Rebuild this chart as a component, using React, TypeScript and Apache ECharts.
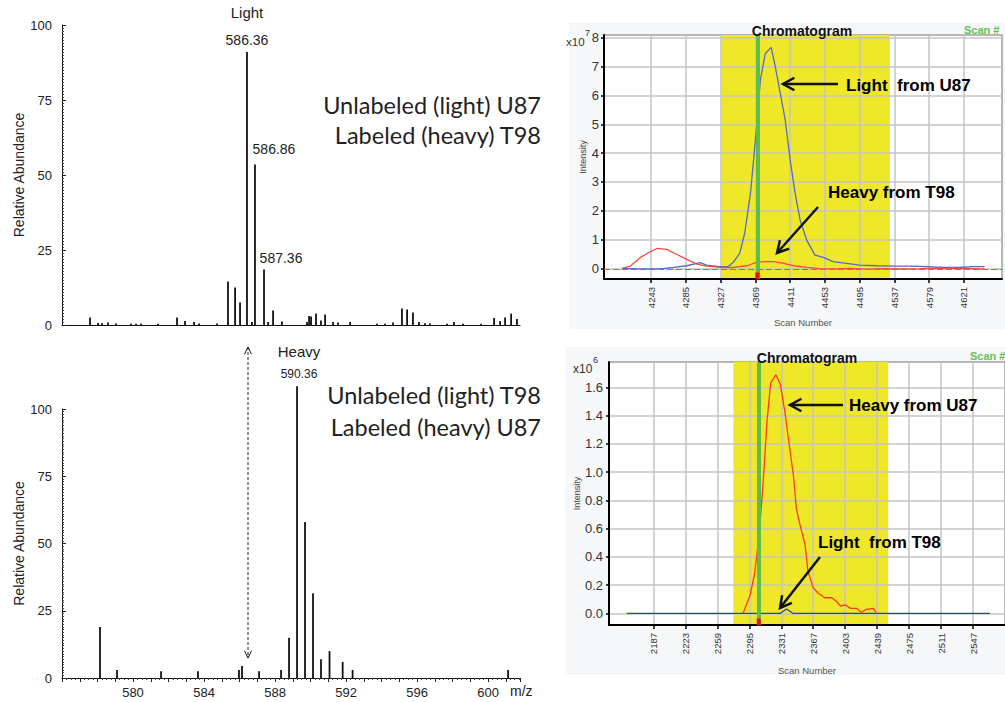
import React, { useEffect, useRef } from 'react';
import * as echarts from 'echarts';

// ---------- Mass spectra (m/z vs relative abundance) ----------
const lightMz = [577.58, 578.03, 578.25, 578.59, 579.04, 579.89, 580.17, 580.45, 581.41, 582.48, 582.93, 583.44, 583.72, 584.73, 585.35, 585.75, 586.03, 586.42, 586.70, 586.87, 587.38, 587.61, 587.89, 588.39, 589.80, 589.92, 590.03, 590.31, 590.59, 590.82, 591.27, 591.55, 592.23, 593.75, 594.20, 594.65, 595.15, 595.44, 595.77, 596.11, 596.45, 596.73, 597.69, 598.08, 598.59, 599.61, 600.34, 600.68, 600.96, 601.30, 601.63];
const lightAbund = [2.5, 0.7, 0.6, 0.8, 0.5, 0.4, 0.4, 0.4, 0.4, 2.5, 1.3, 1, 0.5, 0.5, 14.5, 12.5, 7.5, 91, 1, 53.5, 18.5, 1, 4.8, 1.2, 1, 3, 2.8, 3.8, 1.5, 3.5, 1, 0.8, 1, 0.4, 0.4, 0.8, 5.5, 5.2, 4.2, 1, 0.6, 0.5, 0.4, 1, 0.4, 0.4, 2.3, 1.3, 2.5, 3.8, 2];
const lightLabelMz = [586.42, 586.87, 587.38];
const lightLabelText = ['586.36', '586.86', '587.36'];

const heavyMz = [578.14, 579.10, 581.58, 583.66, 585.97, 586.14, 587.10, 588.34, 588.79, 589.24, 589.69, 590.14, 590.59, 591.07, 591.81, 592.37, 601.13];
const heavyAbund = [19, 3, 2.5, 2.5, 3, 4.5, 2.5, 3, 15, 108.5, 58, 31.5, 7, 10, 6, 3, 3];
const heavyLabelMz = [589.24];
const heavyLabelText = ['590.36'];

const abundTicks = [0, 25, 50, 75, 100];
const mzTickLabels = [580, 584, 588, 592, 596, 600];

// ---------- Chromatogram 1 (U87 light / T98 heavy) ----------
const topScanTicks = [4243, 4285, 4327, 4369, 4411, 4453, 4495, 4537, 4579, 4621];
const topIntTicks = [0, 1, 2, 3, 4, 5, 6, 7, 8];
const topBand = [4327.5, 4531.6];
const topMarkerScan = 4371.4;
const lightU87Scan = [4208, 4226, 4254, 4270, 4286, 4302, 4310, 4326, 4336, 4342, 4350, 4356, 4363, 4369, 4375, 4381, 4388, 4393, 4399, 4405, 4411, 4417, 4423, 4431, 4441, 4451, 4463, 4479, 4495, 4516, 4536, 4556, 4576, 4596, 4616, 4632, 4646];
const lightU87Int = [0.0, -0.02, -0.02, 0.03, 0.09, 0.2, 0.11, 0.06, 0.06, 0.2, 0.52, 1.21, 2.6, 4.45, 6.54, 7.46, 7.67, 7.0, 6.08, 5.15, 3.76, 2.6, 1.68, 0.98, 0.46, 0.38, 0.23, 0.17, 0.11, 0.09, 0.08, 0.08, 0.06, 0.03, 0.03, 0.06, 0.06];
const heavyT98Scan = [4208, 4218, 4230, 4240, 4250, 4262, 4274, 4286, 4298, 4310, 4326, 4342, 4359, 4369, 4379, 4391, 4403, 4415, 4431, 4447, 4463, 4483, 4504, 4524, 4544, 4568, 4592, 4616, 4646];
const heavyT98Int = [0.0, 0.08, 0.38, 0.55, 0.69, 0.66, 0.48, 0.31, 0.15, 0.08, 0.03, 0.03, 0.09, 0.2, 0.23, 0.23, 0.17, 0.09, 0.03, -0.01, -0.02, 0.0, -0.03, -0.01, -0.02, -0.01, 0.01, 0.0, -0.02];

// ---------- Chromatogram 2 (U87 heavy / T98 light) ----------
const botScanTicks = [2187, 2223, 2259, 2295, 2331, 2367, 2403, 2439, 2475, 2511, 2547];
const botIntTicks = [0, 0.2, 0.4, 0.6, 0.8, 1.0, 1.2, 1.4, 1.6];
const botBand = [2277, 2451.4];
const botMarkerScan = 2305.6;
const heavyU87Scan = [2288, 2296, 2301, 2306, 2311, 2315, 2319, 2325, 2330, 2335, 2339, 2345, 2348, 2352, 2358, 2361, 2367, 2373, 2380, 2388, 2394, 2398, 2403, 2409, 2416, 2421, 2427, 2435, 2438];
const heavyU87Int = [0.0, 0.13, 0.28, 0.55, 0.96, 1.36, 1.63, 1.69, 1.62, 1.43, 1.24, 0.96, 0.74, 0.63, 0.48, 0.3, 0.18, 0.14, 0.11, 0.11, 0.08, 0.05, 0.06, 0.035, 0.035, 0.007, 0.028, 0.035, 0.0];
const lightT98Scan = [2157, 2330, 2337, 2344, 2566];
const lightT98Int = [0, 0, 0.03, 0, 0];

const SANS = '"Liberation Sans", Arial, Helvetica, sans-serif';
const CAL = 'Lato, "Open Sans", sans-serif';

function head(x1: number, y1: number, x2: number, y2: number, width: number, len: number, spread: number) {
  const ang = Math.atan2(y2 - y1, x2 - x1);
  const p1 = [x2 - len * Math.cos(ang - spread), y2 - len * Math.sin(ang - spread)];
  const p2 = [x2 - len * Math.cos(ang + spread), y2 - len * Math.sin(ang + spread)];
  return { type: 'polyline', z: 20, shape: { points: [p1, [x2, y2], p2] }, style: { stroke: '#111', lineWidth: width, fill: null } };
}
function arrow(x1: number, y1: number, x2: number, y2: number, width: number, len: number, spread: number) {
  return [
    { type: 'line', z: 20, shape: { x1, y1, x2, y2 }, style: { stroke: '#111', lineWidth: width } },
    head(x1, y1, x2, y2, width, len, spread),
  ];
}

function spectrumData(mz: number[], ab: number[], lblMz: number[], lblText: string[], labelCfg: (t: string, i: number) => any) {
  return mz.map((m, i) => {
    const k = lblMz.indexOf(m);
    const item: any = { value: [m, ab[i]] };
    if (k >= 0) item.label = labelCfg(lblText[k], k);
    return item;
  });
}

export default function App() {
  const ref = useRef<HTMLDivElement>(null);
  useEffect(() => {
    if (!ref.current) return;
    const chart = echarts.init(ref.current, undefined, { renderer: 'svg' });

    const lightLabelCfg = (t: string, k: number) => {
      if (k === 0) {
        return {
          show: true, position: 'top', distance: 4,
          formatter: '{t|Light}\n{v|' + t + '}',
          rich: {
            t: { fontSize: 15, lineHeight: 40, color: '#222', fontFamily: SANS },
            v: { fontSize: 14, lineHeight: 16, color: '#222', fontFamily: SANS },
          },
        };
      }
      const off = k === 1 ? [19, 0] : [17, 0];
      const dist = k === 1 ? 9 : 5;
      return { show: true, position: 'top', distance: dist, offset: off, formatter: t, fontSize: 14, color: '#222', fontFamily: SANS };
    };
    const heavyLabelCfg = (t: string) => ({
      show: true, position: 'top', distance: 5, offset: [2, 0],
      formatter: '{t|Heavy}\n{v|' + t + '}',
      rich: {
        t: { fontSize: 15, lineHeight: 32, color: '#222', fontFamily: SANS },
        v: { fontSize: 12, lineHeight: 14, color: '#222', fontFamily: SANS },
      },
    });

    const specY = (grid: number) => ({
      gridIndex: grid, type: 'value', min: abundTicks[0], max: abundTicks[abundTicks.length - 1], interval: 25,
      axisLine: { show: true, lineStyle: { color: '#111', width: 1 } },
      axisTick: { show: true, inside: true, length: 4, lineStyle: { color: '#222' } },
      minorTick: { show: true, splitNumber: 25, length: 2, lineStyle: { color: '#444' } },
      axisLabel: { fontSize: 13, color: '#222', margin: 10, fontFamily: SANS },
      splitLine: { show: false },
      name: 'Relative Abundance', nameLocation: 'middle', nameGap: 34,
      nameTextStyle: { fontSize: 14, color: '#222', fontFamily: SANS },
    });

    const chromX = (grid: number, min: number, max: number, ticks: number[], gap: number) => ({
      gridIndex: grid, type: 'value', min, max, z: 3,
      axisLine: { show: true, onZero: false, lineStyle: { color: '#000', width: 2 } },
      axisTick: { show: true, customValues: ticks, length: 4, lineStyle: { color: '#000', width: 1.5 } },
      axisLabel: { customValues: ticks, formatter: (v: number) => String(v), rotate: 90, fontSize: 9.5, color: '#333', margin: 8, fontFamily: SANS },
      splitLine: { show: true, lineStyle: { color: '#c4c4c4', width: 1.5 } },
      name: 'Scan Number', nameLocation: 'middle', nameGap: gap,
      nameTextStyle: { fontSize: 9.5, color: '#555', fontFamily: SANS },
    });
    const chromY = (grid: number, min: number, max: number, ticks: number[], fmt: (v: number) => string, gap: number, margin: number) => ({
      gridIndex: grid, type: 'value', min, max, z: 3,
      axisLine: { show: true, onZero: false, lineStyle: { color: '#000', width: 2 } },
      axisTick: { show: true, customValues: ticks, length: 3, lineStyle: { color: '#000', width: 1.5 } },
      axisLabel: { customValues: ticks, formatter: fmt, fontSize: 13, color: '#333', margin, fontFamily: SANS },
      splitLine: { show: true, lineStyle: { color: '#c4c4c4', width: 1.5 } },
      name: 'Intensity', nameLocation: 'middle', nameGap: gap,
      nameTextStyle: { fontSize: 9, color: '#444', fontFamily: SANS },
    });

    const bandSeries = (xi: number, band: number[], marker: number, yMin: number, zeroLine: boolean) => ({
      type: 'line', xAxisIndex: xi, yAxisIndex: xi, data: [[band[0], null]], z: 1,
      showSymbol: false, silent: true,
      markArea: { silent: true, z: 1, itemStyle: { color: '#eee829' }, data: [[{ xAxis: band[0] }, { xAxis: band[1] }]] },
      markLine: {
        silent: true, symbol: ['none', 'none'], z: 6,
        label: { show: false },
        data: [
          { xAxis: marker, lineStyle: { color: '#5fbd4c', width: 4, type: 'solid' } },
          ...(zeroLine ? [{ yAxis: -0.03, lineStyle: { color: '#ff4a4a', width: 1, type: [6, 3] } }] : []),
        ],
      },
      markPoint: {
        silent: true, z: 7,
        data: [{ coord: [marker, yMin], symbol: 'rect', symbolSize: [4, 7], symbolOffset: [0, -3], itemStyle: { color: '#e01010' }, label: { show: false } }],
      },
    });

    const curve = (xi: number, xs: number[], ys: number[], color: string) => ({
      type: 'line', xAxisIndex: xi, yAxisIndex: xi, z: 4,
      data: xs.map((x, i) => [x, ys[i]]),
      showSymbol: false, symbol: 'none', silent: true,
      lineStyle: { color, width: 1.3 },
    });

    const graphics: any[] = [
      { type: 'rect', z: -10, shape: { x: 569, y: 22, width: 436, height: 307 }, style: { fill: '#f6f7f9' } },
      { type: 'rect', z: -10, shape: { x: 565, y: 347, width: 440, height: 328 }, style: { fill: '#f6f7f9' } },
      // left side sample descriptions
      { type: 'text', z: 20, style: { text: 'Unlabeled (light) U87', x: 541, y: 105, align: 'right', verticalAlign: 'middle', font: '23.5px ' + CAL, fill: '#222' } },
      { type: 'text', z: 20, style: { text: 'Labeled (heavy) T98', x: 541, y: 135, align: 'right', verticalAlign: 'middle', font: '23.5px ' + CAL, fill: '#222' } },
      { type: 'text', z: 20, style: { text: 'Unlabeled (light) T98', x: 541, y: 395, align: 'right', verticalAlign: 'middle', font: '23.5px ' + CAL, fill: '#222' } },
      { type: 'text', z: 20, style: { text: 'Labeled (heavy) U87', x: 541, y: 427, align: 'right', verticalAlign: 'middle', font: '23.5px ' + CAL, fill: '#222' } },
      { type: 'text', z: 20, style: { text: 'm/z', x: 510, y: 691, align: 'left', verticalAlign: 'middle', font: '14px ' + SANS, fill: '#222' } },
      // dashed double arrow linking light position to heavy spectrum
      { type: 'line', z: 20, shape: { x1: 248, y1: 347, x2: 248, y2: 658 }, style: { stroke: '#222', lineWidth: 1, lineDash: [3, 2] } },
      head(248, 400, 248, 347, 1, 8, 0.45),
      head(248, 600, 248, 658, 1, 8, 0.45),
      // chromatogram 1 decorations
      { type: 'text', z: 20, style: { text: 'Chromatogram', x: 802, y: 31, align: 'center', verticalAlign: 'middle', font: 'bold 14px ' + SANS, fill: '#111' } },
      { type: 'text', z: 20, style: { text: 'Scan #', x: 964, y: 30, align: 'left', verticalAlign: 'middle', font: 'bold 11px ' + SANS, fill: '#66c05a' } },
      { type: 'text', z: 20, style: { text: 'x10', x: 566, y: 42, align: 'left', verticalAlign: 'middle', font: '11.5px ' + SANS, fill: '#333' } },
      { type: 'text', z: 20, style: { text: '7', x: 585, y: 33, align: 'left', verticalAlign: 'middle', font: '9px ' + SANS, fill: '#333' } },
      { type: 'text', z: 20, style: { text: 'Light  from U87', x: 846, y: 85, align: 'left', verticalAlign: 'middle', font: 'bold 17px ' + SANS, fill: '#000' } },
      ...arrow(838, 84, 783, 84, 2.5, 13, 0.5),
      { type: 'text', z: 20, style: { text: 'Heavy from T98', x: 828, y: 192, align: 'left', verticalAlign: 'middle', font: 'bold 17px ' + SANS, fill: '#000' } },
      ...arrow(818, 207, 777, 253, 2.5, 13, 0.5),
      // chromatogram 2 decorations
      { type: 'text', z: 20, style: { text: 'Chromatogram', x: 807, y: 358, align: 'center', verticalAlign: 'middle', font: 'bold 14px ' + SANS, fill: '#111' } },
      { type: 'text', z: 20, style: { text: 'Scan #', x: 970, y: 356, align: 'left', verticalAlign: 'middle', font: 'bold 11px ' + SANS, fill: '#66c05a' } },
      { type: 'text', z: 20, style: { text: 'x10', x: 573, y: 369, align: 'left', verticalAlign: 'middle', font: '12px ' + SANS, fill: '#333' } },
      { type: 'text', z: 20, style: { text: '6', x: 593, y: 360, align: 'left', verticalAlign: 'middle', font: '9px ' + SANS, fill: '#333' } },
      { type: 'text', z: 20, style: { text: 'Heavy from U87', x: 849, y: 405, align: 'left', verticalAlign: 'middle', font: 'bold 17px ' + SANS, fill: '#000' } },
      ...arrow(843, 405, 790, 405, 2.5, 13, 0.5),
      { type: 'text', z: 20, style: { text: 'Light  from T98', x: 818, y: 542, align: 'left', verticalAlign: 'middle', font: 'bold 17px ' + SANS, fill: '#000' } },
      ...arrow(820, 557, 780, 608, 2.5, 13, 0.5),
    ];

    const option: any = {
      animation: false,
      backgroundColor: '#ffffff',
      textStyle: { fontFamily: SANS },
      grid: [
        { left: 62, top: 25, width: 458, height: 300 },
        { left: 62, top: 409, width: 458, height: 269 },
        { left: 604, top: 35, width: 398, height: 244, show: true, backgroundColor: '#ffffff', borderColor: '#a0a0a0', borderWidth: 1.5, z: 0 },
        { left: 609, top: 362, width: 396, height: 263, show: true, backgroundColor: '#ffffff', borderColor: '#a0a0a0', borderWidth: 1.5, z: 0 },
      ],
      xAxis: [
        {
          gridIndex: 0, type: 'value', min: 576, max: 601.8,
          axisLine: { show: true, lineStyle: { color: '#111', width: 1.2 } },
          axisTick: { show: false }, axisLabel: { show: false }, splitLine: { show: false },
        },
        {
          gridIndex: 1, type: 'value', min: 576, max: 601.8, interval: 1,
          axisLine: { show: true, lineStyle: { color: '#111', width: 1.2 } },
          axisTick: { show: true, length: 4, lineStyle: { color: '#222' } },
          minorTick: { show: true, splitNumber: 4, length: 2, lineStyle: { color: '#444' } },
          axisLabel: { customValues: mzTickLabels, fontSize: 13, color: '#222', margin: 8, fontFamily: SANS },
          splitLine: { show: false },
        },
        chromX(2, 4186, 4667, topScanTicks, 38),
        chromX(3, 2137, 2583, botScanTicks, 40),
      ],
      yAxis: [
        specY(0),
        specY(1),
        chromY(2, -0.37, 8.1, topIntTicks, (v: number) => String(v), 15, 5),
        chromY(3, -0.083, 1.78, botIntTicks, (v: number) => v.toFixed(1), 24, 6),
      ],
      series: [
        {
          type: 'bar', xAxisIndex: 0, yAxisIndex: 0, barWidth: 1.8, clip: false, silent: true,
          itemStyle: { color: '#111' },
          data: spectrumData(lightMz, lightAbund, lightLabelMz, lightLabelText, lightLabelCfg),
        },
        {
          type: 'bar', xAxisIndex: 1, yAxisIndex: 1, barWidth: 1.8, clip: false, silent: true,
          itemStyle: { color: '#111' },
          data: spectrumData(heavyMz, heavyAbund, heavyLabelMz, heavyLabelText, (t) => heavyLabelCfg(t)),
        },
        bandSeries(2, topBand, topMarkerScan, -0.37, true),
        curve(2, lightU87Scan, lightU87Int, '#5468c8'),
        curve(2, heavyT98Scan, heavyT98Int, '#ff4646'),
        bandSeries(3, botBand, botMarkerScan, -0.083, false),
        curve(3, lightT98Scan, lightT98Int, '#2b3fbf'),
        curve(3, heavyU87Scan, heavyU87Int, '#ff3a1c'),
      ],
      graphic: graphics,
    };
    chart.setOption(option);
    return () => chart.dispose();
  }, []);
  return <div ref={ref} style={{ position: 'fixed', left: 0, top: 0, width: 1005, height: 702 }} />;
}
